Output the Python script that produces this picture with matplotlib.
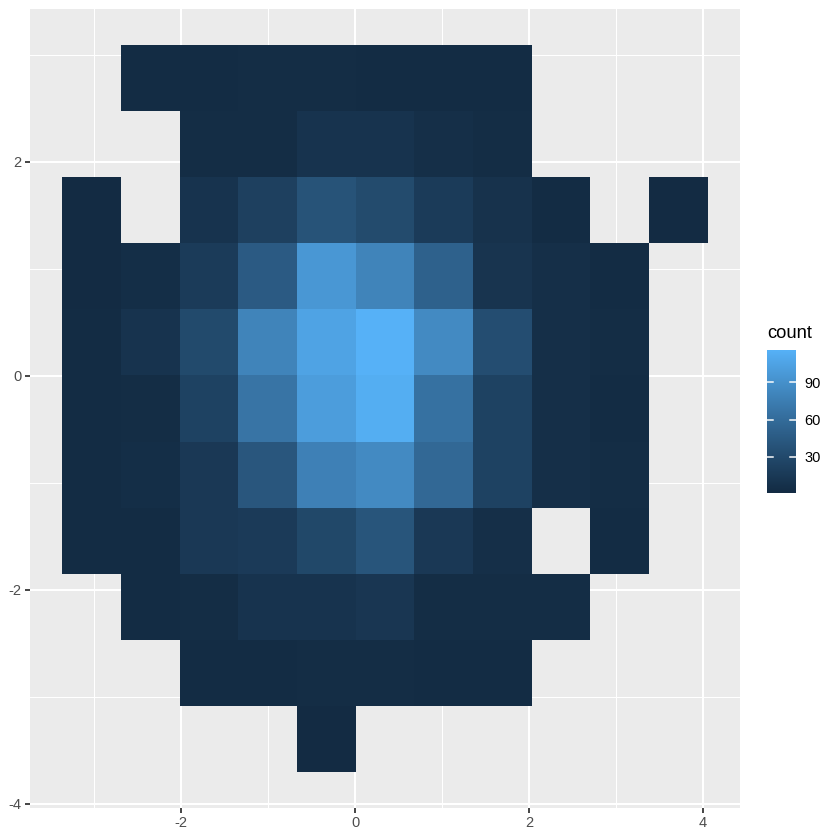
import numpy as np
import matplotlib
matplotlib.use("Agg")
import matplotlib.pyplot as plt
from matplotlib.colors import ListedColormap, Normalize

plt.rcParams['font.family'] = ['Liberation Sans', 'DejaVu Sans']
plt.rcParams['axes.unicode_minus'] = False

# bin edges
x_edges = [-3.37, -2.695, -2.02, -1.345, -0.67, 0.005, 0.68, 1.355, 2.03, 2.705, 3.38, 4.055]
y_edges = [-3.70, -3.083, -2.466, -1.849, -1.232, -0.615, 0.002, 0.619, 1.236, 1.853, 2.47, 3.087]

# counts per bin, rows from top (y high) to bottom; None = empty bin
counts_top_down = [
    [None, 2, 2, 3, 3, 2, 2, 2, None, None, None],
    [None, None, 3, 3, 9, 9, 5, 3, None, None, None],
    [1, None, 9, 21, 38, 31, 17, 8, 2, None, 1],
    [1, 4, 17, 45, 95, 80, 51, 10, 5, 2, None],
    [2, 9, 30, 80, 105, 116, 85, 33, 5, 3, None],
    [2, 3, 23, 67, 100, 113, 64, 23, 5, 2, None],
    [2, 4, 14, 41, 77, 85, 57, 23, 5, 3, None],
    [2, 2, 14, 16, 28, 40, 14, 5, None, 2, None],
    [None, 2, 3, 9, 9, 12, 3, 3, 3, None, None],
    [None, None, 2, 2, 3, 3, 2, 2, None, None, None],
    [None, None, None, None, 1, None, None, None, None, None, None],
]

x_breaks = [-2, 0, 2, 4]
y_breaks = [-4, -2, 0, 2]
legend_breaks = [30, 60, 90]

# ggplot-like gradient (interpolated in Lab space)
def srgb_to_lab(rgb):
    rgb = np.asarray(rgb, float)
    lin = np.where(rgb <= 0.04045, rgb / 12.92, ((rgb + 0.055) / 1.055) ** 2.4)
    m = np.array([[0.4124, 0.3576, 0.1805],
                  [0.2126, 0.7152, 0.0722],
                  [0.0193, 0.1192, 0.9505]])
    xyz = lin @ m.T / np.array([0.95047, 1.0, 1.08883])
    f = np.where(xyz > 0.008856, np.cbrt(xyz), 7.787 * xyz + 16 / 116)
    return np.stack([116 * f[..., 1] - 16, 500 * (f[..., 0] - f[..., 1]),
                     200 * (f[..., 1] - f[..., 2])], axis=-1)

def lab_to_srgb(lab):
    L, a, b = lab[..., 0], lab[..., 1], lab[..., 2]
    fy = (L + 16) / 116
    fx = fy + a / 500
    fz = fy - b / 200
    f = np.stack([fx, fy, fz], axis=-1)
    xyz = np.where(f > 0.2069, f ** 3, (f - 16 / 116) / 7.787) * np.array([0.95047, 1.0, 1.08883])
    m = np.array([[3.2406, -1.5372, -0.4986],
                  [-0.9689, 1.8758, 0.0415],
                  [0.0557, -0.2040, 1.0570]])
    lin = xyz @ m.T
    rgb = np.where(lin <= 0.0031308, 12.92 * lin, 1.055 * np.clip(lin, 0, None) ** (1 / 2.4) - 0.055)
    return np.clip(rgb, 0, 1)

low = np.array([0x13, 0x2B, 0x43]) / 255
high = np.array([0x56, 0xB1, 0xF7]) / 255
t = np.linspace(0, 1, 256)[:, None]
lab = srgb_to_lab(low) * (1 - t) + srgb_to_lab(high) * t
cmap = ListedColormap(lab_to_srgb(lab))

z = np.array([[np.nan if v is None else v for v in row] for row in counts_top_down[::-1]], float)
vmin, vmax = np.nanmin(z), np.nanmax(z)
norm = Normalize(vmin, vmax)

fig = plt.figure(figsize=(7, 7), dpi=120)
W = H = 840
ax = fig.add_axes([30 / W, 32 / H, 710 / W, 799 / H])
ax.set_facecolor('#EBEBEB')
ax.pcolormesh(x_edges, y_edges, np.ma.masked_invalid(z), cmap=cmap, norm=norm, zorder=2)

xr = x_edges[-1] - x_edges[0]
yr = y_edges[-1] - y_edges[0]
ax.set_xlim(x_edges[0] - 0.05 * xr, x_edges[-1] + 0.05 * xr)
ax.set_ylim(y_edges[0] - 0.05 * yr, y_edges[-1] + 0.05 * yr)

for xv in [-3, -1, 1, 3]:
    ax.axvline(xv, color='white', lw=0.6, zorder=1)
for yv in [-3, -1, 1, 3]:
    ax.axhline(yv, color='white', lw=0.6, zorder=1)
for xv in x_breaks:
    ax.axvline(xv, color='white', lw=1.2, zorder=1)
for yv in y_breaks:
    ax.axhline(yv, color='white', lw=1.2, zorder=1)

ax.set_xticks(x_breaks)
ax.set_yticks(y_breaks)
ax.set_xticklabels([str(v) for v in x_breaks])
ax.set_yticklabels([str(v) for v in y_breaks])
ax.tick_params(length=2.75, width=1.07, color='#333333',
               labelcolor='#4D4D4D', labelsize=8.8, pad=2.2)
for s in ax.spines.values():
    s.set_visible(False)

# colour bar legend
cax = fig.add_axes([767 / W, (840 - 493) / H, 29 / W, 143 / H])
grad = np.linspace(vmin, vmax, 300)[:, None]
cax.imshow(grad, aspect='auto', cmap=cmap, norm=norm, origin='lower',
           extent=[0, 1, vmin, vmax])
cax.set_xlim(0, 1)
cax.set_ylim(vmin, vmax)
for b in legend_breaks:
    cax.plot([0, 0.2], [b, b], color='white', lw=0.9)
    cax.plot([0.8, 1], [b, b], color='white', lw=0.9)
cax.set_xticks([])
cax.yaxis.tick_right()
cax.set_yticks(legend_breaks)
cax.set_yticklabels([str(b) for b in legend_breaks])
cax.tick_params(axis='y', length=0, labelsize=8.8, labelcolor='black', pad=5)
for s in cax.spines.values():
    s.set_visible(False)
fig.text(767 / W, 1 - 338 / H, 'count', fontsize=11, ha='left', va='baseline')

fig.savefig('out.png', dpi=120)
